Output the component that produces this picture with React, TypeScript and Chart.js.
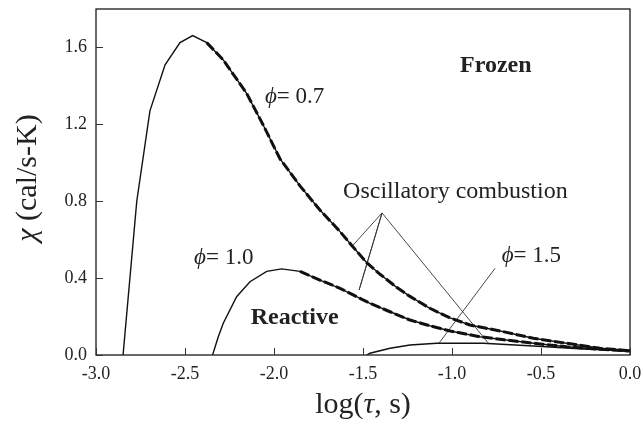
import React, { useEffect, useRef } from "react";
import { Chart, registerables } from "chart.js";

Chart.register(...registerables);

// ---- data ----
const xTicks = [-3.0, -2.5, -2.0, -1.5, -1.0, -0.5, 0.0];
const yTicks = [0.0, 0.4, 0.8, 1.2, 1.6];

const phi07X = [-2.848, -2.771, -2.697, -2.612, -2.528, -2.457, -2.378, -2.285, -2.153, -2.06, -1.966, -1.854, -1.742, -1.629, -1.563, -1.479, -1.404, -1.311, -1.236, -1.124, -1.011, -0.899, -0.73, -0.543, -0.356, -0.169, 0.0];
const phi07Y = [0.0, 0.8, 1.27, 1.51, 1.625, 1.662, 1.625, 1.535, 1.36, 1.195, 1.02, 0.88, 0.754, 0.642, 0.57, 0.48, 0.42, 0.352, 0.305, 0.243, 0.193, 0.156, 0.125, 0.087, 0.061, 0.035, 0.022];

const phi10X = [-2.345, -2.313, -2.285, -2.21, -2.135, -2.041, -1.957, -1.854, -1.742, -1.629, -1.517, -1.461, -1.348, -1.236, -1.124, -1.011, -0.843, -0.73, -0.543, -0.356, -0.169, 0.0];
const phi10Y = [0.0, 0.095, 0.165, 0.303, 0.381, 0.435, 0.448, 0.435, 0.39, 0.347, 0.295, 0.269, 0.225, 0.182, 0.152, 0.125, 0.095, 0.082, 0.061, 0.043, 0.03, 0.021];

const phi15X = [-1.479, -1.461, -1.348, -1.236, -1.086, -0.899, -0.824, -0.543, -0.262, 0.0];
const phi15Y = [0.0, 0.009, 0.035, 0.052, 0.061, 0.061, 0.061, 0.047, 0.031, 0.021];

// oscillatory combustion ranges (start of bold dashed overlay)
const osc07Start = -2.38;
const osc10Start = -1.86;

// pointer lines
const oscPointerX = [-1.562, -1.393, -1.522, -1.393, -0.798];
const oscPointerY = [0.565, 0.739, 0.338, 0.739, 0.064];
const phi15PointerX = [-0.758, -1.071];
const phi15PointerY = [0.451, 0.064];

const FONT = "'Liberation Serif', 'Times New Roman', 'DejaVu Serif', serif";

type Part = { t: string; italic?: boolean; bold?: boolean };

const annotations: { parts: Part[]; x: number; y: number; size: number }[] = [
  { parts: [{ t: "\u03D5", italic: true }, { t: "= 0.7" }], x: -2.051, y: 1.311, size: 23 },
  { parts: [{ t: "\u03D5", italic: true }, { t: "= 1.0" }], x: -2.449, y: 0.473, size: 23 },
  { parts: [{ t: "\u03D5", italic: true }, { t: "= 1.5" }], x: -0.721, y: 0.484, size: 23 },
  { parts: [{ t: "Frozen", bold: true }], x: -0.955, y: 1.472, size: 24 },
  { parts: [{ t: "Oscillatory combustion" }], x: -1.612, y: 0.817, size: 24 },
  { parts: [{ t: "Reactive", bold: true }], x: -2.131, y: 0.161, size: 24 },
];

const yTitle: Part[] = [{ t: "\u03C7", italic: true }, { t: " (cal/s-K)" }];
const xTitle: Part[] = [{ t: "log(" }, { t: "\u03C4", italic: true }, { t: ", s)" }];

const pts = (xs: number[], ys: number[]) => xs.map((x, i) => ({ x, y: ys[i] }));

function fontFor(p: Part, size: number) {
  return `${p.italic ? "italic " : ""}${p.bold ? "bold " : ""}${size}px ${FONT}`;
}
function measureParts(ctx: CanvasRenderingContext2D, parts: Part[], size: number) {
  let w = 0;
  for (const p of parts) {
    ctx.font = fontFor(p, size);
    w += ctx.measureText(p.t).width;
  }
  return w;
}
function drawParts(ctx: CanvasRenderingContext2D, parts: Part[], x: number, y: number, size: number) {
  let cx = x;
  for (const p of parts) {
    ctx.font = fontFor(p, size);
    ctx.fillText(p.t, cx, y);
    cx += ctx.measureText(p.t).width;
  }
}

const framePlugin = {
  id: "framePlugin",
  afterDraw(chart: any) {
    const { ctx, chartArea, scales } = chart;
    const xs = scales.x;
    const ys = scales.y;
    ctx.save();
    // frame
    ctx.strokeStyle = "#1a1a1a";
    ctx.lineWidth = 1.3;
    ctx.strokeRect(chartArea.left, chartArea.top, chartArea.right - chartArea.left, chartArea.bottom - chartArea.top);
    // inward ticks
    ctx.lineWidth = 1;
    ctx.strokeStyle = "#333";
    ctx.beginPath();
    for (const v of xTicks) {
      const px = Math.round(xs.getPixelForValue(v)) + 0.5;
      ctx.moveTo(px, chartArea.bottom);
      ctx.lineTo(px, chartArea.bottom - 7);
    }
    for (const v of yTicks) {
      const py = Math.round(ys.getPixelForValue(v)) + 0.5;
      ctx.moveTo(chartArea.left, py);
      ctx.lineTo(chartArea.left + 7, py);
    }
    ctx.stroke();

    ctx.fillStyle = "#222";
    ctx.textBaseline = "alphabetic";
    ctx.textAlign = "left";
    // annotations
    for (const a of annotations) {
      drawParts(ctx, a.parts, xs.getPixelForValue(a.x), ys.getPixelForValue(a.y), a.size);
    }
    // x title
    const xw = measureParts(ctx, xTitle, 30);
    const cx = (chartArea.left + chartArea.right) / 2;
    drawParts(ctx, xTitle, cx - xw / 2, chartArea.bottom + 58, 30);
    // y title
    const yw = measureParts(ctx, yTitle, 30);
    ctx.translate(36, (chartArea.top + chartArea.bottom) / 2 - 4);
    ctx.rotate(-Math.PI / 2);
    drawParts(ctx, yTitle, -yw / 2, 0, 30);
    ctx.restore();
  },
};

export default function App() {
  const ref = useRef<HTMLCanvasElement | null>(null);
  useEffect(() => {
    if (!ref.current) return;
    const lineColor = "#111";
    const chart = new Chart(ref.current, {
      type: "scatter",
      data: {
        datasets: [
          { data: pts(phi07X, phi07Y), showLine: true, borderColor: lineColor, borderWidth: 1.4, pointRadius: 0, tension: 0 },
          { data: pts(phi10X, phi10Y), showLine: true, borderColor: lineColor, borderWidth: 1.4, pointRadius: 0, tension: 0 },
          { data: pts(phi15X, phi15Y), showLine: true, borderColor: lineColor, borderWidth: 1.4, pointRadius: 0, tension: 0 },
          {
            data: pts(phi07X, phi07Y).filter((p) => p.x >= osc07Start),
            showLine: true, borderColor: lineColor, borderWidth: 3, borderDash: [10, 3], pointRadius: 0, tension: 0,
          },
          {
            data: pts(phi10X, phi10Y).filter((p) => p.x >= osc10Start),
            showLine: true, borderColor: lineColor, borderWidth: 3, borderDash: [10, 3], pointRadius: 0, tension: 0,
          },
          { data: pts(oscPointerX, oscPointerY), showLine: true, borderColor: "#333", borderWidth: 0.9, pointRadius: 0, tension: 0 },
          { data: pts(phi15PointerX, phi15PointerY), showLine: true, borderColor: "#333", borderWidth: 0.9, pointRadius: 0, tension: 0 },
        ],
      } as any,
      options: {
        responsive: false,
        animation: false,
        layout: { padding: { top: 9, right: 13, left: 0, bottom: 0 } },
        plugins: { legend: { display: false }, tooltip: { enabled: false } },
        scales: {
          x: {
            type: "linear",
            min: -3,
            max: 0,
            grid: { display: false, drawTicks: false },
            border: { display: false },
            afterBuildTicks: (s: any) => {
              s.ticks = xTicks.map((v) => ({ value: v }));
            },
            afterFit: (s: any) => {
              s.height = 72;
              s.paddingLeft = 0;
              s.paddingRight = 0;
              s.paddingTop = 0;
              s.paddingBottom = 0;
            },
            ticks: {
              padding: 8,
              color: "#222",
              font: { family: FONT, size: 18 },
              maxRotation: 0,
              callback: (v: any) => Number(v).toFixed(1),
            },
          },
          y: {
            type: "linear",
            min: 0,
            max: 1.8,
            grid: { display: false, drawTicks: false },
            border: { display: false },
            afterBuildTicks: (s: any) => {
              s.ticks = yTicks.map((v) => ({ value: v }));
            },
            afterFit: (s: any) => {
              s.width = 96;
              s.paddingLeft = 0;
              s.paddingRight = 0;
              s.paddingTop = 0;
              s.paddingBottom = 0;
            },
            ticks: {
              padding: 9,
              color: "#222",
              font: { family: FONT, size: 18 },
              callback: (v: any) => Number(v).toFixed(1),
            },
          },
        },
      } as any,
      plugins: [framePlugin],
    });
    return () => chart.destroy();
  }, []);
  return (
    <div style={{ position: "absolute", left: 0, top: 0, width: 643, height: 427, background: "#fff" }}>
      <canvas ref={ref} width={643} height={427} style={{ display: "block" }} />
    </div>
  );
}
